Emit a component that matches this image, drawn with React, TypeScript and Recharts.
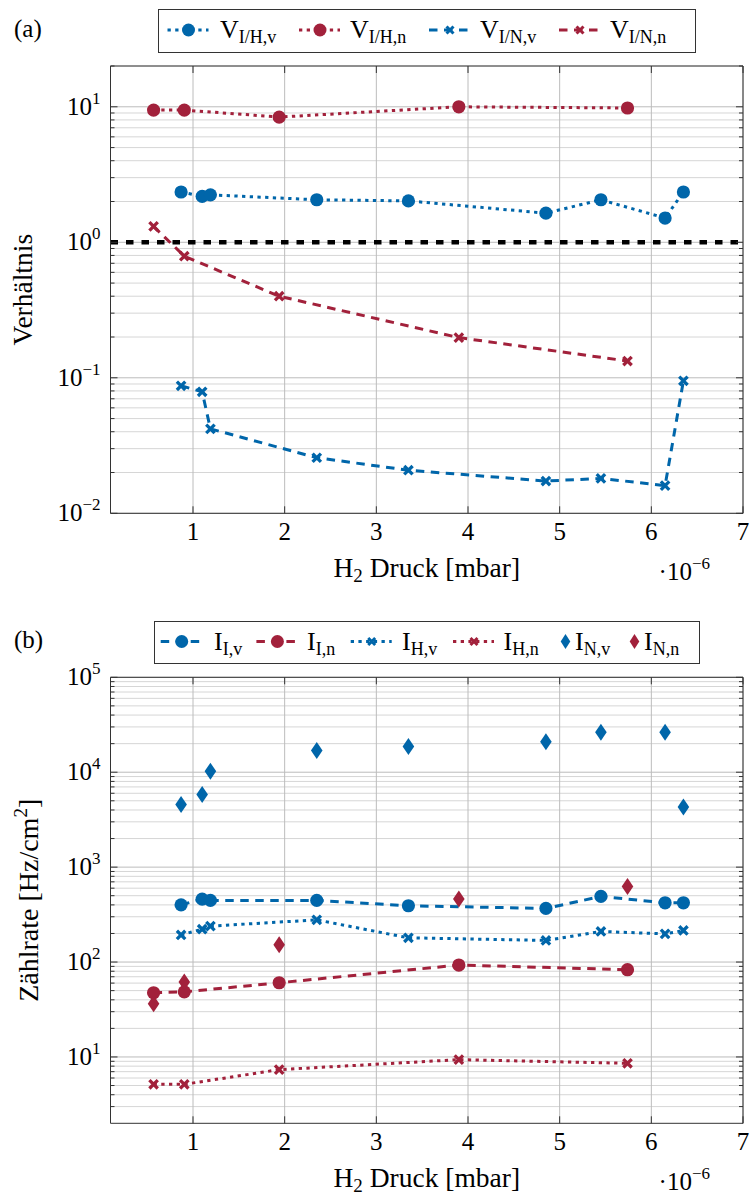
import React from 'react';
import { ComposedChart, Line, XAxis, YAxis, CartesianGrid, ReferenceLine } from 'recharts';

const BLUE = '#0066aa';
const RED = '#a2213b';
const AXIS = '#333333';
const TS = { fontFamily: 'Liberation Serif' };

// H2 pressure (x 10^-6 mbar)
const xVoll = [0.87, 1.1, 1.19, 2.35, 3.35, 4.85, 5.45, 6.15, 6.35];
const xNull = [0.57, 0.905, 1.94, 3.9, 5.74];

// (a) ratios
const vIHv = [2.35, 2.18, 2.24, 2.06, 2.02, 1.64, 2.06, 1.51, 2.35];
const vIHn = [9.45, 9.45, 8.4, 10.0, 9.8];
const vINv = [0.0873, 0.0788, 0.042, 0.0257, 0.0208, 0.0173, 0.0181, 0.016, 0.095];
const vINn = [1.31, 0.79, 0.4, 0.198, 0.133];

// (b) count rates
const iIv = [401, 460, 446, 446, 392, 367, 491, 421, 421];
const iIn = [47.5, 48.5, 60.5, 93, 83];
const iHv = [193, 222, 239, 278, 180, 169, 210, 198, 215];
const iHn = [5.15, 5.15, 7.35, 9.37, 8.57];
const iNv = [4560, 5810, 10250, 16900, 18670, 20900, 26400, 26400, 4300];
const iNn = [36.3, 61.5, 152, 462, 625];

const xTicks = [1, 2, 3, 4, 5, 6, 7];
const xDomain: [number, number] = [0.1, 7];
const yDomainA: [number, number] = [0.01, 20];
const yDomainB: [number, number] = [2, 100000];
const decadesA = [0.01, 0.1, 1, 10];
const decadesB = [1, 10, 100, 1000, 10000, 100000];
const minorMult = [2, 3, 4, 5, 6, 7, 8, 9];

const zip = (xs: number[], ys: number[]) => xs.map((x, i) => ({ x, y: ys[i] }));
const minorOf = (dec: number[], dom: [number, number]) => {
  const out: number[] = [];
  dec.forEach((d) => minorMult.forEach((m) => {
    const v = +(d * m).toPrecision(6);
    if (v > dom[0] && v <= dom[1]) out.push(v);
  }));
  return out;
};
const majorOf = (dec: number[], dom: [number, number]) => dec.filter((d) => d >= dom[0] && d <= dom[1]);
const majorA = majorOf(decadesA, yDomainA);
const minorA = minorOf(decadesA, yDomainA);
const majorB = majorOf(decadesB, yDomainB);
const minorB = minorOf(decadesB, yDomainB);
const allA = [...majorA, ...minorA].sort((a, b) => a - b);
const allB = [...majorB, ...minorB].sort((a, b) => a - b);

const isDecade = (v: number) => Math.abs(Math.log10(v) - Math.round(Math.log10(v))) < 1e-6;
const expLabel = (v: number) => {
  const e = Math.round(Math.log10(v));
  return e < 0 ? '\u2212' + -e : String(e);
};

const DOTTED = '3.3 4.4';
const DASHED = '8.5 6.5';

function LeftTick(props: any) {
  const { x, y, payload } = props;
  const v = payload.value;
  const major = isDecade(v);
  return (
    <g>
      <line x1={x} x2={x + (major ? 7 : 4)} y1={y} y2={y} stroke={AXIS} strokeWidth={1} />
      {major && (
        <text x={x - 10} y={y + 8} textAnchor="end" style={TS} fontSize={25} fill="#000">
          10<tspan dy={-11} fontSize={17}>{expLabel(v)}</tspan>
        </text>
      )}
    </g>
  );
}
function RightTick(props: any) {
  const { x, y, payload } = props;
  const major = isDecade(payload.value);
  return <line x1={x} x2={x - (major ? 7 : 4)} y1={y} y2={y} stroke={AXIS} strokeWidth={1} />;
}
function BottomTick(props: any) {
  const { x, y, payload } = props;
  return (
    <g>
      <line x1={x} x2={x} y1={y} y2={y - 7} stroke={AXIS} strokeWidth={1} />
      <text x={x} y={y + 27} textAnchor="middle" style={TS} fontSize={25} fill="#000">
        {payload.value}
      </text>
    </g>
  );
}
function TopTick(props: any) {
  const { x, y } = props;
  return <line x1={x} x2={x} y1={y} y2={y + 7} stroke={AXIS} strokeWidth={1} />;
}

const circleDot = (color: string) => (p: any) =>
  p.cx == null ? <g key={`e${p.index}`} /> : <circle key={`c${p.index}`} cx={p.cx} cy={p.cy} r={6.6} fill={color} stroke="none" />;
const crossDot = (color: string) => (p: any) => {
  if (p.cx == null) return <g key={`e${p.index}`} />;
  const s = 4.2;
  const { cx, cy } = p;
  return (
    <path key={`x${p.index}`} d={`M${cx - s},${cy - s}L${cx + s},${cy + s}M${cx - s},${cy + s}L${cx + s},${cy - s}`}
      stroke={color} strokeWidth={3.3} strokeDasharray="none" fill="none" />
  );
};
const diamondDot = (color: string) => (p: any) => {
  if (p.cx == null) return <g key={`e${p.index}`} />;
  const { cx, cy } = p;
  return <polygon key={`d${p.index}`} points={`${cx},${cy - 8.5} ${cx + 5.8},${cy} ${cx},${cy + 8.5} ${cx - 5.8},${cy}`} fill={color} stroke="none" />;
};

const xLabel = (vb: any) => {
  const cx = vb.x + vb.width / 2;
  const y0 = vb.y;
  return (
    <g>
      <text x={cx} y={y0 + 64} textAnchor="middle" style={TS} fontSize={27.5} fill="#000">
        H<tspan dy={5} fontSize={19}>2</tspan><tspan dy={-5}> Druck [mbar]</tspan>
      </text>
      <text x={vb.x + vb.width - 33} y={y0 + 67} textAnchor="end" style={TS} fontSize={25} fill="#000">
        ·10<tspan dy={-11} fontSize={17}>−6</tspan>
      </text>
    </g>
  );
};

function ChartFrame(props: { yDomain: [number, number]; major: number[]; minor: number[]; all: number[]; height: number; margin: any; yTitle: (vb: any) => React.ReactNode; children: React.ReactNode }) {
  const { yDomain, major, minor, all, height, margin, yTitle, children } = props;
  return (
    <ComposedChart width={755} height={height} margin={margin}>
      <CartesianGrid horizontal vertical={false} horizontalValues={minor} stroke="#d6d6d6" strokeWidth={1} />
      <CartesianGrid horizontal vertical horizontalValues={major} verticalValues={xTicks} stroke="#bcbcbc" strokeWidth={1} />
      <XAxis type="number" dataKey="x" domain={xDomain} ticks={xTicks} interval={0} allowDataOverflow
        height={30} tickSize={0} tickMargin={0} tickLine={false} axisLine={{ stroke: AXIS, strokeWidth: 1 }}
        tick={<BottomTick />} label={(p: any) => xLabel(p.viewBox)} />
      <XAxis xAxisId="t" orientation="top" type="number" dataKey="x" domain={xDomain} ticks={xTicks} interval={0} allowDataOverflow
        height={1} tickSize={0} tickMargin={0} tickLine={false} axisLine={{ stroke: AXIS, strokeWidth: 1 }} tick={<TopTick />} />
      <YAxis type="number" dataKey="y" scale="log" domain={yDomain} ticks={all} interval={0} allowDataOverflow
        width={60} tickSize={0} tickMargin={0} tickLine={false} axisLine={{ stroke: AXIS, strokeWidth: 1 }}
        tick={<LeftTick />} label={(p: any) => yTitle(p.viewBox)} />
      <YAxis yAxisId="r" orientation="right" type="number" dataKey="y" scale="log" domain={yDomain} ticks={all} interval={0} allowDataOverflow
        width={1} tickSize={0} tickMargin={0} tickLine={false} axisLine={{ stroke: AXIS, strokeWidth: 1 }} tick={<RightTick />} />
      {children}
    </ComposedChart>
  );
}

const yTitleA = (vb: any) => {
  const left = vb.x + vb.width;
  const cy = vb.y + vb.height / 2;
  const tx = left - 78;
  return (
    <text x={tx} y={cy} transform={`rotate(-90 ${tx} ${cy})`} textAnchor="middle" style={TS} fontSize={27.5} fill="#000">
      Verhältnis
    </text>
  );
};
const yTitleB = (vb: any) => {
  const left = vb.x + vb.width;
  const cy = vb.y + vb.height / 2;
  const tx = left - 72;
  return (
    <text x={tx} y={cy} transform={`rotate(-90 ${tx} ${cy})`} textAnchor="middle" style={TS} fontSize={28} fill="#000">
      Zählrate [Hz/cm<tspan dy={-11} fontSize={19}>2</tspan><tspan dy={11}>]</tspan>
    </text>
  );
};

type Entry = { main: string; sub: string; color: string; dash?: string; marker: 'circle' | 'cross' | 'diamond'; left: number; textLeft: number };

const legendA: Entry[] = [
  { main: 'V', sub: 'I/H,v', color: BLUE, dash: DOTTED, marker: 'circle', left: 9.5, textLeft: 62 },
  { main: 'V', sub: 'I/H,n', color: RED, dash: DOTTED, marker: 'circle', left: 141, textLeft: 192 },
  { main: 'V', sub: 'I/N,v', color: BLUE, dash: DASHED, marker: 'cross', left: 271, textLeft: 322 },
  { main: 'V', sub: 'I/N,n', color: RED, dash: DASHED, marker: 'cross', left: 401, textLeft: 452 },
];
const legendB: Entry[] = [
  { main: 'I', sub: 'I,v', color: BLUE, dash: DASHED, marker: 'circle', left: 6.7, textLeft: 60 },
  { main: 'I', sub: 'I,n', color: RED, dash: DASHED, marker: 'circle', left: 102.4, textLeft: 153 },
  { main: 'I', sub: 'H,v', color: BLUE, dash: DOTTED, marker: 'cross', left: 196.7, textLeft: 248 },
  { main: 'I', sub: 'H,n', color: RED, dash: DOTTED, marker: 'cross', left: 299, textLeft: 349.5 },
  { main: 'I', sub: 'N,v', color: BLUE, marker: 'diamond', left: 411.5, textLeft: 421 },
  { main: 'I', sub: 'N,n', color: RED, marker: 'diamond', left: 480.5, textLeft: 490 },
];

function LegendBox(props: { entries: Entry[]; left: number; top: number; width: number; height: number }) {
  const { entries, left, top, width, height } = props;
  const cy = height / 2 - 1;
  const base = cy + 8;
  return (
    <svg width={width} height={height} style={{ position: 'absolute', left, top }}>
      <rect x={0.5} y={0.5} width={width - 1} height={height - 1} fill="#fff" stroke={AXIS} strokeWidth={1} />
      {entries.map((e, i) => {
        let marker: React.ReactNode = null;
        if (e.marker === 'diamond') {
          marker = <polygon points={`${e.left},${cy - 7.5} ${e.left + 4.8},${cy} ${e.left},${cy + 7.5} ${e.left - 4.8},${cy}`} fill={e.color} />;
        } else {
          const mx = e.left + 21;
          marker = e.marker === 'circle'
            ? <circle cx={mx} cy={cy} r={6.5} fill={e.color} />
            : <path d={`M${mx - 3.5},${cy - 3.5}L${mx + 3.5},${cy + 3.5}M${mx - 3.5},${cy + 3.5}L${mx + 3.5},${cy - 3.5}`} stroke={e.color} strokeWidth={3} />;
        }
        return (
          <g key={i}>
            {e.dash && <line x1={e.left} x2={e.left + 41} y1={cy} y2={cy} stroke={e.color} strokeWidth={3} strokeDasharray={e.dash} />}
            {marker}
            <text x={e.textLeft} y={base} style={TS} fontSize={26} fill="#000">
              {e.main}<tspan dy={5} fontSize={18}>{e.sub}</tspan>
            </text>
          </g>
        );
      })}
    </svg>
  );
}

export default function App() {
  return (
    <div style={{ position: 'absolute', left: 0, top: 0, width: 755, height: 1196, background: '#fff' }}>
      <div style={{ position: 'absolute', left: 0, top: 0 }}>
        <ChartFrame yDomain={yDomainA} major={majorA} minor={minorA} all={allA} height={610}
          margin={{ top: 65, right: 11, bottom: 66.7, left: 50.5 }} yTitle={yTitleA}>
          <ReferenceLine y={1} stroke="#000" strokeWidth={4.5} strokeDasharray="7.5 8" />
          <Line data={zip(xVoll, vIHv)} dataKey="y" type="linear" stroke={BLUE} strokeWidth={3} strokeDasharray={DOTTED}
            dot={circleDot(BLUE)} activeDot={false} isAnimationActive={false} />
          <Line data={zip(xNull, vIHn)} dataKey="y" type="linear" stroke={RED} strokeWidth={3} strokeDasharray={DOTTED}
            dot={circleDot(RED)} activeDot={false} isAnimationActive={false} />
          <Line data={zip(xVoll, vINv)} dataKey="y" type="linear" stroke={BLUE} strokeWidth={3} strokeDasharray={DASHED}
            dot={crossDot(BLUE)} activeDot={false} isAnimationActive={false} />
          <Line data={zip(xNull, vINn)} dataKey="y" type="linear" stroke={RED} strokeWidth={3} strokeDasharray={DASHED}
            dot={crossDot(RED)} activeDot={false} isAnimationActive={false} />
        </ChartFrame>
      </div>
      <div style={{ position: 'absolute', left: 0, top: 610 }}>
        <ChartFrame yDomain={yDomainB} major={majorB} minor={minorB} all={allB} height={586}
          margin={{ top: 66.3, right: 11, bottom: 42.7, left: 50.5 }} yTitle={yTitleB}>
          <Line data={zip(xVoll, iIv)} dataKey="y" type="linear" stroke={BLUE} strokeWidth={3} strokeDasharray={DASHED}
            dot={circleDot(BLUE)} activeDot={false} isAnimationActive={false} />
          <Line data={zip(xNull, iIn)} dataKey="y" type="linear" stroke={RED} strokeWidth={3} strokeDasharray={DASHED}
            dot={circleDot(RED)} activeDot={false} isAnimationActive={false} />
          <Line data={zip(xVoll, iHv)} dataKey="y" type="linear" stroke={BLUE} strokeWidth={3} strokeDasharray={DOTTED}
            dot={crossDot(BLUE)} activeDot={false} isAnimationActive={false} />
          <Line data={zip(xNull, iHn)} dataKey="y" type="linear" stroke={RED} strokeWidth={3} strokeDasharray={DOTTED}
            dot={crossDot(RED)} activeDot={false} isAnimationActive={false} />
          <Line data={zip(xVoll, iNv)} dataKey="y" type="linear" stroke="none" strokeWidth={0}
            dot={diamondDot(BLUE)} activeDot={false} isAnimationActive={false} />
          <Line data={zip(xNull, iNn)} dataKey="y" type="linear" stroke="none" strokeWidth={0}
            dot={diamondDot(RED)} activeDot={false} isAnimationActive={false} />
        </ChartFrame>
      </div>
      <LegendBox entries={legendA} left={158} top={9} width={538} height={44} />
      <LegendBox entries={legendB} left={154} top={621} width={546} height={43} />
      <svg width={60} height={1196} style={{ position: 'absolute', left: 0, top: 0, pointerEvents: 'none' }}>
        <text x={14} y={37} style={TS} fontSize={25} fill="#000">(a)</text>
        <text x={14} y={648} style={TS} fontSize={25} fill="#000">(b)</text>
      </svg>
    </div>
  );
}
